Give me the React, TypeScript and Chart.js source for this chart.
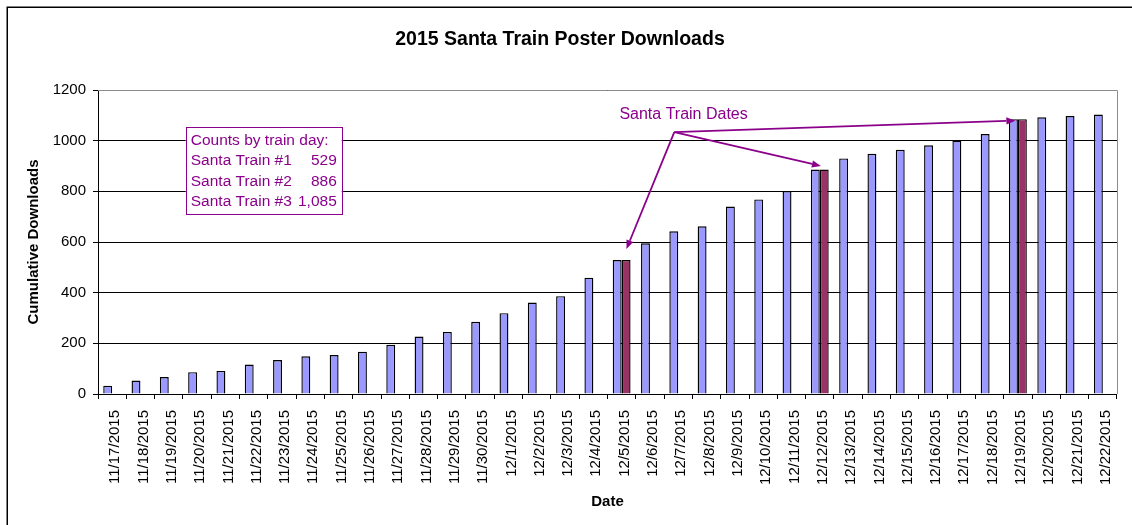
import React, { useEffect, useRef } from "react";
import { Chart, registerables } from "chart.js";

Chart.register(...registerables);

const TITLE = "2015 Santa Train Poster Downloads";
const Y_TITLE = "Cumulative Downloads";
const X_TITLE = "Date";

const dates = [
  "11/17/2015", "11/18/2015", "11/19/2015", "11/20/2015", "11/21/2015", "11/22/2015",
  "11/23/2015", "11/24/2015", "11/25/2015", "11/26/2015", "11/27/2015", "11/28/2015",
  "11/29/2015", "11/30/2015", "12/1/2015", "12/2/2015", "12/3/2015", "12/4/2015",
  "12/5/2015", "12/6/2015", "12/7/2015", "12/8/2015", "12/9/2015", "12/10/2015",
  "12/11/2015", "12/12/2015", "12/13/2015", "12/14/2015", "12/15/2015", "12/16/2015",
  "12/17/2015", "12/18/2015", "12/19/2015", "12/20/2015", "12/21/2015", "12/22/2015",
];

const downloads = [
  33, 53, 67, 86, 91, 116, 134, 149, 154, 167, 194, 227, 245, 285,
  319, 361, 386, 459, 529, 595, 642, 662, 740, 768, 801, 886, 930, 948,
  964, 982, 1000, 1026, 1085, 1092, 1097, 1103,
];

const trainDays = [
  null, null, null, null, null, null, null, null, null, null, null, null, null, null,
  null, null, null, null, 529, null, null, null, null, null, null, 886, null, null,
  null, null, null, null, 1085, null, null, null,
];

const yTicks = [0, 200, 400, 600, 800, 1000, 1200];

const boxTitle = "Counts by train day:";
const boxNames = ["Santa Train #1", "Santa Train #2", "Santa Train #3"];
const boxCounts = ["529", "886", "1,085"];

const calloutText = "Santa Train Dates";
// arrow origin and tips in data coordinates (category index, value)
const arrowOrigin = [19.86, 1034];
const arrowTips = [
  [18.17, 572],
  [25.04, 900],
  [31.91, 1079],
];

const PURPLE = "#8B008B";
const FONT = "Arial, 'Liberation Sans', sans-serif";

function arrow(ctx: CanvasRenderingContext2D, x0: number, y0: number, x1: number, y1: number) {
  const ang = Math.atan2(y1 - y0, x1 - x0);
  const len = 9;
  const hw = 3.6;
  const bx = x1 - Math.cos(ang) * len;
  const by = y1 - Math.sin(ang) * len;
  ctx.beginPath();
  ctx.moveTo(x0, y0);
  ctx.lineTo(bx, by);
  ctx.stroke();
  ctx.beginPath();
  ctx.moveTo(x1, y1);
  ctx.lineTo(bx + Math.sin(ang) * hw, by - Math.cos(ang) * hw);
  ctx.lineTo(bx - Math.sin(ang) * hw, by + Math.cos(ang) * hw);
  ctx.closePath();
  ctx.fill();
}

const annotPlugin = {
  id: "annot",
  afterDraw(chart: any) {
    const { ctx, chartArea, scales } = chart;
    const xs = scales.x;
    const ys = scales.y;
    ctx.save();
    // plot border (top & right) gray
    ctx.strokeStyle = "#8c8c8c";
    ctx.lineWidth = 1;
    ctx.beginPath();
    ctx.moveTo(chartArea.left, Math.round(chartArea.top) + 0.5);
    ctx.lineTo(Math.round(chartArea.right) + 0.5, Math.round(chartArea.top) + 0.5);
    ctx.lineTo(Math.round(chartArea.right) + 0.5, chartArea.bottom);
    ctx.stroke();

    // outer frame
    ctx.strokeStyle = "#000";
    ctx.lineWidth = 1.5;
    ctx.strokeRect(7.25, 7.25, chart.width + 20, chart.height + 20);

    // text box
    const bx = xs.getPixelForValue(2.6);
    const by = ys.getPixelForValue(1054);
    const bw = 156;
    const bh = 87;
    ctx.fillStyle = "#fff";
    ctx.fillRect(bx, by, bw, bh);
    ctx.strokeStyle = PURPLE;
    ctx.lineWidth = 1;
    ctx.strokeRect(Math.round(bx) + 0.5, Math.round(by) + 0.5, bw, bh);
    ctx.fillStyle = PURPLE;
    ctx.font = "15.5px " + FONT;
    ctx.textBaseline = "alphabetic";
    ctx.textAlign = "left";
    ctx.fillText(boxTitle, bx + 5, by + 18);
    for (let i = 0; i < boxNames.length; i++) {
      const yy = by + 18 + 20.4 * (i + 1);
      ctx.textAlign = "left";
      ctx.fillText(boxNames[i], bx + 5, yy);
      ctx.textAlign = "right";
      ctx.fillText(boxCounts[i], bx + bw - 5, yy);
    }

    // callout text
    ctx.font = "16px " + FONT;
    ctx.textAlign = "left";
    ctx.fillText(calloutText, xs.getPixelForValue(17.92), ys.getPixelForValue(1086));

    // arrows
    ctx.strokeStyle = PURPLE;
    ctx.fillStyle = PURPLE;
    ctx.lineWidth = 1.8;
    const ox = xs.getPixelForValue(arrowOrigin[0]);
    const oy = ys.getPixelForValue(arrowOrigin[1]);
    for (const t of arrowTips) {
      arrow(ctx, ox, oy, xs.getPixelForValue(t[0]), ys.getPixelForValue(t[1]));
    }
    ctx.restore();
  },
};

export default function App() {
  const ref = useRef<HTMLCanvasElement>(null);
  useEffect(() => {
    if (!ref.current) return;
    const chart = new Chart(ref.current, {
      type: "bar",
      data: {
        labels: dates,
        datasets: [
          {
            label: "Downloads",
            data: downloads,
            backgroundColor: "#9999FF",
            borderColor: "#000",
            borderWidth: 1.4,
            categoryPercentage: 0.63,
            barPercentage: 1,
          },
          {
            label: "Train days",
            data: trainDays as any,
            backgroundColor: "#993366",
            borderColor: "#000",
            borderWidth: 1.4,
            categoryPercentage: 0.63,
            barPercentage: 1,
          },
        ],
      },
      options: {
        responsive: false,
        animation: false,
        devicePixelRatio: 1,
        layout: { padding: { left: 0, right: 12, top: 0, bottom: 0 } },
        plugins: {
          legend: { display: false },
          tooltip: { enabled: false },
          title: {
            display: true,
            text: TITLE,
            color: "#000",
            font: { family: FONT, size: 19.5, weight: "bold", lineHeight: 1.2 },
            padding: { top: 27.8, bottom: 38.8 },
          },
        },
        scales: {
          x: {
            grid: {
              drawOnChartArea: false,
              drawTicks: true,
              tickLength: 5,
              color: "#000",
              offset: true,
            },
            border: { color: "#000", width: 1 },
            ticks: {
              autoSkip: false,
              maxRotation: 90,
              minRotation: 90,
              padding: 11,
              labelOffset: 3,
              color: "#000",
              font: { family: FONT, size: 15 },
            },
            title: {
              display: true,
              text: X_TITLE,
              color: "#000",
              font: { family: FONT, size: 15, weight: "bold", lineHeight: 1.2 },
              padding: { top: 0, bottom: 13.8 },
            },
            afterFit(scale: any) {
              scale.height = 131;
            },
          },
          y: {
            min: yTicks[0],
            max: yTicks[yTicks.length - 1],
            afterBuildTicks(scale: any) {
              scale.ticks = yTicks.map((v) => ({ value: v }));
            },
            ticks: {
              padding: 7,
              color: "#000",
              font: { family: FONT, size: 15 },
              callback: (v: any) => String(v),
            },
            grid: {
              color: "#000",
              tickLength: 5,
              lineWidth: 1,
            },
            border: { color: "#000", width: 1 },
            title: {
              display: true,
              text: Y_TITLE,
              color: "#000",
              font: { family: FONT, size: 15, weight: "bold", lineHeight: 1.2 },
              padding: { top: 25, bottom: 0 },
            },
            afterFit(scale: any) {
              scale.width = 98;
            },
          },
        },
      },
      plugins: [annotPlugin],
    });
    return () => chart.destroy();
  }, []);
  return (
    <div style={{ position: "fixed", left: 0, top: 0, width: 1132, height: 525, background: "#fff" }}>
      <canvas ref={ref} width={1132} height={525} style={{ display: "block" }} />
    </div>
  );
}
